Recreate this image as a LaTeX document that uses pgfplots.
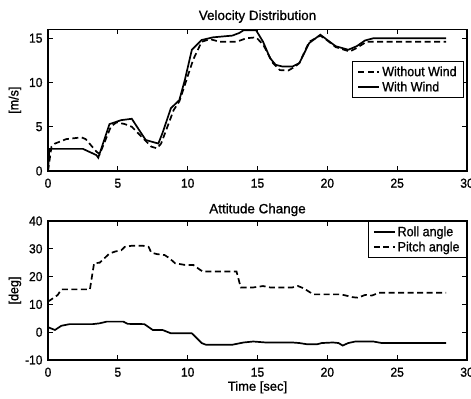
\documentclass[border=0pt]{standalone}
\usepackage{fontspec}
\setmainfont{Liberation Sans}
\newfontfamily\F{Liberation Sans}[FakeBold=1.0]
\newfontfamily\FN{Liberation Sans}[FakeStretch=0.93,FakeBold=1.0]
\usepackage{pgfplots}
\pgfplotsset{compat=1.18}
\begin{document}
\begin{tikzpicture}
\path[use as bounding box] (-48bp,-39bp) rectangle (423bp,360bp);
\pgfplotsset{
  every axis title shift=0pt,
  myax/.style={
    scale only axis, width=419bp,
    xmin=0, xmax=30, xtick={0,5,...,30},
    tick align=inside, major tick length=5bp,
    axis line style={line width=1.1bp},
    every tick/.style={line width=0.9bp, black},
    tick label style={font=\FN\fontsize{13}{14}\selectfont},
    xticklabel style={anchor=base, yshift=-16.7bp},
    yticklabel style={xshift=-2bp},
    /pgf/number format/assume math mode=true,
    title style={at={(axis description cs:0.5,1)}, anchor=base, font=\F\fontsize{13.5}{14}\selectfont},
    label style={font=\F\fontsize{13}{14}\selectfont},
    ylabel style={at={(axis description cs:-0.079,0.5)}, anchor=center, font=\FN\fontsize{13.5}{14}\selectfont},
    legend style={font=\FN\fontsize{13.5}{15}\selectfont, draw=black, line width=0.9bp,
      inner xsep=5bp, inner ysep=3bp, row sep=0bp, cells={anchor=west}},
    legend image code/.code={\draw[##1] (0bp,0bp) -- (21bp,0bp);},
    sol/.style={black, line width=1.7bp},
    das/.style={black, line width=1.7bp, dash pattern=on 6bp off 3.5bp},
  }
}
\begin{axis}[myax, at={(0,189bp)}, height=141.6bp, ymin=0, ymax=16, ytick={0,5,10,15},
  title={Velocity Distribution}, title style={yshift=9.4bp}, ylabel={[m/s]},
  legend style={at={(0.993,0.777)}, anchor=north east}]
\addplot[das] coordinates {
(0,0) (0.25,2.75) (0.5,3.1) (1.3,3.6) (2.4,3.8) (2.7,3.6) (3.46,2.2) (3.7,1.9)
(4.5,5.0) (4.9,5.5) (5.5,5.3) (6.0,5.0) (6.8,3.7) (7.4,2.75) (7.8,2.56) (8.1,3.1)
(9.0,6.9) (9.4,7.85) (10.4,12.6) (11.0,14.6) (11.6,14.9) (12.3,14.6) (13.5,14.6)
(14.2,15.0) (14.9,15.1) (15.4,14.3) (16.1,12.2) (16.6,11.4) (17.2,11.35) (17.7,11.8)
(18.0,12.2) (18.7,14.6) (19.5,15.3) (20.0,14.75) (20.6,14.0) (21.6,13.5) (22.1,13.9)
(22.8,14.6) (23.5,14.6) (28.5,14.6)};
\addlegendentry{Without Wind}
\addplot[sol] coordinates {
(0,0) (0.1,2.5) (2.5,2.5) (3.46,1.8) (3.6,1.5) (4.4,5.3) (5.25,5.75) (6.0,5.9)
(6.6,4.45) (7.0,3.5) (7.9,3.1) (8.2,4.3) (8.8,7.1) (9.4,8.0) (9.8,10.3) (10.3,13.7)
(11.0,14.8) (11.8,15.1) (13.2,15.3) (13.7,15.6) (14.0,15.9) (14.9,15.9) (15.4,14.6)
(15.9,12.75) (16.3,12.0) (16.8,11.8) (17.5,11.8) (18.0,12.2) (18.7,14.45) (19.5,15.4)
(20.0,14.8) (20.6,14.1) (21.5,13.7) (22.1,14.1) (22.7,14.75) (23.3,15.0) (28.5,15.0)};
\addlegendentry{With Wind}
\end{axis}
\begin{axis}[myax, at={(0,0)}, height=139bp, ymin=-10, ymax=40, ytick={-10,0,...,40},
  title={Attitude Change}, title style={yshift=7.7bp}, ylabel={[deg]}, xlabel={Time [sec]},
  xlabel style={at={(axis description cs:0.5,0)}, anchor=base, yshift=-30.7bp},
  legend style={at={(1,1)}, anchor=north east}]
\addplot[sol] coordinates {
(0,1.8) (0.5,0.8) (0.95,2.3) (1.55,2.9) (3.2,2.9) (3.7,3.2) (4.2,3.8) (5.4,3.8)
(5.7,3.0) (6.9,2.9) (7.5,0.8) (8.2,0.8) (8.8,-0.4) (10.3,-0.4) (11.0,-3.9) (11.3,-4.5)
(13.2,-4.5) (14.0,-3.7) (14.7,-3.35) (15.6,-3.7) (17.5,-3.7) (18.0,-3.9) (18.5,-4.3)
(19.3,-4.3) (19.6,-3.9) (20.4,-3.7) (20.8,-3.9) (21.1,-4.8) (21.5,-3.9) (22.0,-3.35)
(23.3,-3.35) (23.9,-3.9) (28.5,-3.9)};
\addlegendentry{Roll angle}
\addplot[das] coordinates {
(0,11) (0.36,12.2) (0.7,13.4) (0.95,15.4) (3.0,15.4) (3.3,24.8) (3.7,25) (4.4,28.3)
(4.8,29) (5.25,29.5) (5.5,30.7) (6.0,31.1) (6.8,31.1) (7.2,30.7) (7.4,28.6) (7.8,28.1)
(8.35,27.75) (8.7,26.6) (9.1,24.8) (9.8,24.2) (10.4,24.2) (10.9,22.4) (11.1,21.8)
(13.5,21.8) (13.8,16.1) (14.7,16.1) (15.4,16.6) (15.9,16.1) (17.5,16.1) (17.9,16.6)
(18.3,15.8) (19.0,13.6) (21.0,13.6) (21.8,12.6) (22.2,12.4) (22.7,13.4) (23.2,13.2)
(23.7,14.2) (28.5,14.2)};
\addlegendentry{Pitch angle}
\end{axis}
\end{tikzpicture}
\end{document}
